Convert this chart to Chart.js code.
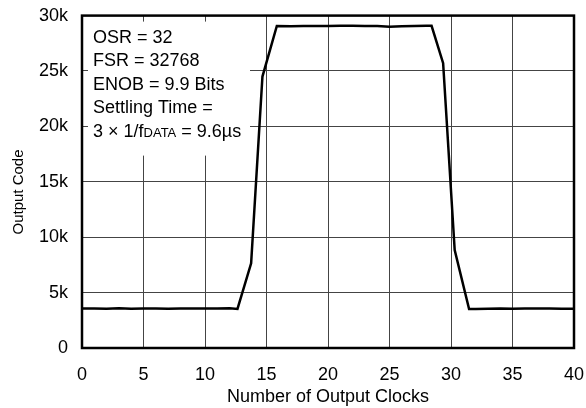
<!DOCTYPE html>
<html lang="en">
<head>
    <meta charset="UTF-8">
    <title>Output Code vs Number of Output Clocks</title>
    <script src="https://cdn.jsdelivr.net/npm/chart.js"></script>
    <style>
        body {
            margin: 0;
            background: #fff;
        }
        .wrap {
            width: 586px;
            height: 408px;
        }
    </style>
</head>
<body>
    <div class="wrap">
        <canvas id="settling-chart"></canvas>
    </div>

    <script>
        // Step response (x = output clocks, y = output code)
        const clocks = [0, 1, 2, 3, 4, 5, 6, 7, 8, 9, 10, 11, 12, 12.64,
            13.75, 14.67, 15.84,
            17, 18, 19, 20, 21, 22, 23, 24, 25, 26, 27, 28, 28.42,
            29.36, 30.3, 31.47,
            32, 33, 34, 35, 36, 37, 38, 39, 40];
        const codes = [3560, 3560, 3540, 3590, 3550, 3560, 3560, 3550, 3560, 3560, 3570, 3560, 3580, 3530,
            7640, 24500, 29060,
            29050, 29060, 29060, 29070, 29080, 29080, 29070, 29060, 29000, 29040, 29070, 29080, 29080,
            25700, 8840, 3520,
            3530, 3550, 3570, 3540, 3560, 3560, 3560, 3550, 3540];

        const xTicks = [0, 5, 10, 15, 20, 25, 30, 35, 40];
        const yTicks = [0, 5000, 10000, 15000, 20000, 25000, 30000];

        const xTitle = 'Number of Output Clocks';
        const yTitle = 'Output Code';
        const noteLines = ['OSR = 32', 'FSR = 32768', 'ENOB = 9.9 Bits', 'Settling Time ='];

        const FONT = '"Liberation Sans", Arial, sans-serif';

        const points = clocks.map((c, i) => ({ x: c, y: codes[i] }));

        // White note box, frame and rotated y title
        const notePlugin = {
            id: 'notes',
            afterDatasetsDraw(chart) {
                const ctx = chart.ctx;
                const area = chart.chartArea;
                ctx.save();

                ctx.fillStyle = '#fff';
                ctx.fillRect(area.left + 6, area.top + 6, 162, 134);

                ctx.fillStyle = '#000';
                ctx.textAlign = 'left';
                ctx.textBaseline = 'alphabetic';
                ctx.font = '18px ' + FONT;
                const x0 = area.left + 11;
                let base = area.top + 27;
                noteLines.forEach(line => {
                    ctx.fillText(line, x0, base);
                    base += 23.6;
                });
                // last line with the small-caps fDATA subscript
                let x = x0;
                const part1 = '3 \u00d7 1/f';
                ctx.fillText(part1, x, base);
                x += ctx.measureText(part1).width;
                ctx.font = '13px ' + FONT;
                ctx.fillText('DATA', x, base);
                x += ctx.measureText('DATA').width;
                ctx.font = '18px ' + FONT;
                ctx.fillText(' = 9.6\u00b5s', x, base);

                // frame
                ctx.strokeStyle = '#000';
                ctx.lineWidth = 2.5;
                ctx.strokeRect(area.left, area.top, area.right - area.left, area.bottom - area.top);

                // y title
                ctx.translate(18.5, 192);
                ctx.rotate(-Math.PI / 2);
                ctx.font = '15px ' + FONT;
                ctx.textAlign = 'center';
                ctx.textBaseline = 'middle';
                ctx.fillText(yTitle, 0, 0);
                ctx.restore();
            }
        };

        const ctx = document.getElementById('settling-chart').getContext('2d');
        const chart = new Chart(ctx, {
            type: 'line',
            data: {
                datasets: [{
                    data: points,
                    borderColor: '#000',
                    borderWidth: 2.5,
                    pointRadius: 0,
                    tension: 0,
                    fill: false
                }]
            },
            options: {
                responsive: true,
                maintainAspectRatio: false,
                animation: false,
                layout: {
                    padding: { top: 15.6, right: 12, bottom: 0, left: 0 }
                },
                plugins: {
                    legend: { display: false },
                    tooltip: { enabled: false }
                },
                scales: {
                    x: {
                        type: 'linear',
                        min: 0,
                        max: 40,
                        afterBuildTicks: scale => {
                            scale.ticks = xTicks.map(v => ({ value: v }));
                        },
                        afterFit: scale => {
                            scale.height = 60;
                            scale.paddingLeft = 0;
                            scale.paddingRight = 0;
                        },
                        grid: { color: '#444', lineWidth: 1, drawTicks: false },
                        border: { display: false },
                        ticks: {
                            color: '#000',
                            padding: 16,
                            maxRotation: 0,
                            font: { family: FONT, size: 18 }
                        },
                        title: {
                            display: true,
                            text: xTitle,
                            color: '#000',
                            padding: { top: 1, bottom: 0 },
                            font: { family: FONT, size: 18 }
                        }
                    },
                    y: {
                        min: 0,
                        max: 30000,
                        afterBuildTicks: scale => {
                            scale.ticks = yTicks.map(v => ({ value: v }));
                        },
                        afterFit: scale => {
                            scale.width = 82;
                            scale.paddingTop = 0;
                            scale.paddingBottom = 0;
                        },
                        grid: { color: '#444', lineWidth: 1, drawTicks: false },
                        border: { display: false },
                        ticks: {
                            color: '#000',
                            padding: 14,
                            font: { family: FONT, size: 18 },
                            callback: v => v === 0 ? '0' : (v / 1000) + 'k'
                        }
                    }
                }
            },
            plugins: [notePlugin]
        });
    </script>
</body>
</html>
